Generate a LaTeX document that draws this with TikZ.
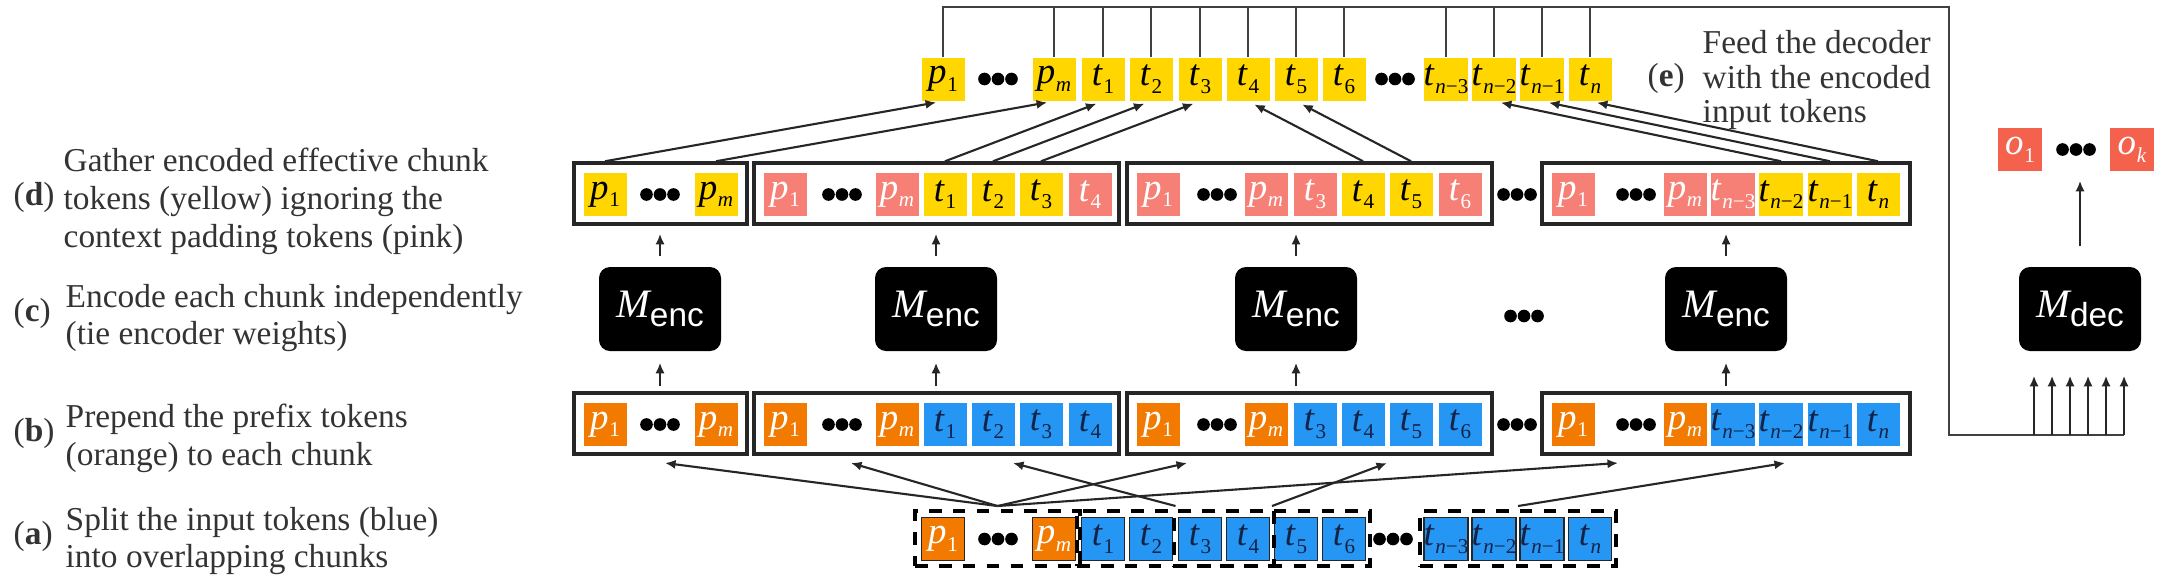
\documentclass[tikz,border=0pt]{standalone}
\usepackage{fontspec}
\setmainfont{Liberation Serif}
\setsansfont{Liberation Sans}
\usetikzlibrary{arrows.meta}
\definecolor{preorange}{RGB}{242,122,0}
\definecolor{inblue}{RGB}{38,150,245}
\definecolor{encyellow}{RGB}{255,214,0}
\definecolor{padpink}{RGB}{246,128,118}
\definecolor{outred}{RGB}{244,98,78}
\definecolor{navy}{RGB}{20,35,70}
\newcommand{\subfont}{\fontsize{6}{6}\selectfont}
\newcommand{\tk}[2]{\textit{#1}\kern0.2pt\raisebox{-0.45ex}{\subfont #2}}
\newcommand{\mlab}[1]{{\fontsize{11.5}{11.5}\selectfont\textit{M}}\kern-0.5pt\raisebox{-0.55ex}{\sffamily\fontsize{9.5}{9.5}\selectfont #1}}
\newcommand{\tdots}[2]{\fill (#1,#2) ++(-13.5,0) circle (1.8pt) ++(13.5,0) circle (1.8pt) ++(13.5,0) circle (1.8pt);}
\tikzset{
  tok/.style={minimum width=4.3mm, minimum height=4.3mm, inner sep=0pt, font=\fontsize{10.5}{10.5}\selectfont},
  ptok/.style={tok, fill=preorange, text=white},
  btok/.style={tok, fill=inblue, text=navy},
  ytok/.style={tok, fill=encyellow, text=black},
  ktok/.style={tok, fill=padpink, text=white},
  otok/.style={tok, minimum width=4.4mm, fill=outred, text=white},
  inp/.style={draw=black!85, line width=0.5pt},
  chunkbox/.style={draw=black!85, line width=1pt, minimum height=6.1mm, inner sep=0pt},
  grpbox/.style={draw=black, line width=1.3pt, dash pattern=on 3.6pt off 3.2pt, minimum height=5.5mm, inner sep=0pt, outer sep=0.5mm},
  modelbox/.style={fill=black, rounded corners=1.1mm, minimum width=12.2mm, minimum height=8.4mm, text=white},
  conn/.style={-{Latex[length=3pt,width=2.6pt]}, line width=0.6pt, draw=black!85},
  wire/.style={line width=0.6pt, draw=black!75},
  steplab/.style={anchor=west, inner sep=0pt, text=black!80, font=\fontsize{9.5}{10.8}\selectfont},
  desctext/.style={anchor=west, align=left, inner sep=0pt, text=black!80, font=\fontsize{9.5}{10.8}\selectfont}
}
\begin{document}
\begin{tikzpicture}[x=0.1mm, y=-0.1mm]
\useasboundingbox (0,0) rectangle (2167,587);
% step descriptions
\node[steplab] (ld) at (13,197) {(\textbf{d})};
\node[desctext] (td) at (63,201) {Gather encoded effective chunk\\tokens (yellow) ignoring the\\context padding tokens (pink)};
\node[steplab] (lc) at (13,313) {(\textbf{c})};
\node[desctext] (tc) at (65,318) {Encode each chunk independently\\(tie encoder weights)};
\node[steplab] (lb) at (13,433) {(\textbf{b})};
\node[desctext] (tb) at (65,438) {Prepend the prefix tokens\\(orange) to each chunk};
\node[steplab] (la) at (13,536) {(\textbf{a})};
\node[desctext] (ta) at (65,541) {Split the input tokens (blue)\\into overlapping chunks};
\node[steplab] (le) at (1647,78) {(\textbf{e})};
\node[desctext, font=\fontsize{9.5}{9.7}\selectfont] (te) at (1702,80) {Feed the decoder\\with the encoded\\input tokens};

% input tokens
\node[ptok, inp] (ip1) at (943,539) {\tk{p}{1}};
\node[ptok, inp] (ipm) at (1054,539) {\tk{p}{\textit{m}}};
\foreach \x/\i in {1103/1,1151/2,1200/3,1248/4,1296/5,1344/6}
  \node[btok, inp] (it\i) at (\x,539) {\tk{t}{\i}};
\node[btok, inp] (itn3) at (1446,539) {\tk{t}{\textit{n}−3}};
\node[btok, inp] (itn2) at (1494,539) {\tk{t}{\textit{n}−2}};
\node[btok, inp] (itn1) at (1542,539) {\tk{t}{\textit{n}−1}};
\node[btok, inp] (itn) at (1590,539) {\tk{t}{\textit{n}}};
\tdots{998}{539}
\tdots{1393}{539}
\node[grpbox, minimum width=16.5mm] (gpre) at (997.5,538.5) {};
\node[grpbox, minimum width=19.7mm] (gc1) at (1175.5,538.5) {};
\node[grpbox, minimum width=19.6mm] (gc2) at (1272,538.5) {};
\node[grpbox, minimum width=19.6mm] (gcn) at (1518,538.5) {};

% chunks with prefix
\node[chunkbox, minimum width=17.3mm] (fb1) at (660.5,423.5) {};
\node[chunkbox, minimum width=36.5mm] (fb2) at (936.5,423.5) {};
\node[chunkbox, minimum width=36.5mm] (fb3) at (1309.5,423.5) {};
\node[chunkbox, minimum width=36.8mm] (fb4) at (1726,423.5) {};
\node[ptok] (b1p1) at (605,424.5) {\tk{p}{1}};
\node[ptok] (b1pm) at (716,424.5) {\tk{p}{\textit{m}}};
\node[ptok] (b2p1) at (785,424.5) {\tk{p}{1}};
\node[ptok] (b2pm) at (897,424.5) {\tk{p}{\textit{m}}};
\foreach \x/\i in {945/1,993/2,1041/3,1090/4}
  \node[btok] (b2t\i) at (\x,424.5) {\tk{t}{\i}};
\node[ptok] (b3p1) at (1158,424.5) {\tk{p}{1}};
\node[ptok] (b3pm) at (1266,424.5) {\tk{p}{\textit{m}}};
\foreach \x/\i in {1315/3,1363/4,1411/5,1460/6}
  \node[btok] (b3t\i) at (\x,424.5) {\tk{t}{\i}};
\node[ptok] (b4p1) at (1573,424.5) {\tk{p}{1}};
\node[ptok] (b4pm) at (1685,424.5) {\tk{p}{\textit{m}}};
\node[btok] (b4tn3) at (1733,424.5) {\tk{t}{\textit{n}−3}};
\node[btok] (b4tn2) at (1781,424.5) {\tk{t}{\textit{n}−2}};
\node[btok] (b4tn1) at (1830,424.5) {\tk{t}{\textit{n}−1}};
\node[btok] (b4tn) at (1878,424.5) {\tk{t}{\textit{n}}};
\tdots{660}{424.5}
\tdots{842}{424.5}
\tdots{1217}{424.5}
\tdots{1636}{424.5}
\tdots{1517}{424.5}

% encoders
\node[modelbox] (enc1) at (660,309) {\mlab{enc}};
\node[modelbox] (enc2) at (936,309) {\mlab{enc}};
\node[modelbox] (enc3) at (1296,309) {\mlab{enc}};
\node[modelbox] (enc4) at (1726,309) {\mlab{enc}};
\tdots{1524}{316}

% encoded chunks
\node[chunkbox, minimum width=17.3mm] (fd1) at (660.5,193.5) {};
\node[chunkbox, minimum width=36.5mm] (fd2) at (936.5,193.5) {};
\node[chunkbox, minimum width=36.5mm] (fd3) at (1309.5,193.5) {};
\node[chunkbox, minimum width=36.8mm] (fd4) at (1726,193.5) {};
\node[ytok] (d1p1) at (605,194.5) {\tk{p}{1}};
\node[ytok] (d1pm) at (716,194.5) {\tk{p}{\textit{m}}};
\node[ktok] (d2p1) at (785,194.5) {\tk{p}{1}};
\node[ktok] (d2pm) at (897,194.5) {\tk{p}{\textit{m}}};
\foreach \x/\i in {945/1,993/2,1041/3}
  \node[ytok] (d2t\i) at (\x,194.5) {\tk{t}{\i}};
\node[ktok] (d2t4) at (1090,194.5) {\tk{t}{4}};
\node[ktok] (d3p1) at (1158,194.5) {\tk{p}{1}};
\node[ktok] (d3pm) at (1266,194.5) {\tk{p}{\textit{m}}};
\node[ktok] (d3t3) at (1315,194.5) {\tk{t}{3}};
\node[ytok] (d3t4) at (1363,194.5) {\tk{t}{4}};
\node[ytok] (d3t5) at (1411,194.5) {\tk{t}{5}};
\node[ktok] (d3t6) at (1460,194.5) {\tk{t}{6}};
\node[ktok] (d4p1) at (1573,194.5) {\tk{p}{1}};
\node[ktok] (d4pm) at (1685,194.5) {\tk{p}{\textit{m}}};
\node[ktok] (d4tn3) at (1733,194.5) {\tk{t}{\textit{n}−3}};
\node[ytok] (d4tn2) at (1781,194.5) {\tk{t}{\textit{n}−2}};
\node[ytok] (d4tn1) at (1830,194.5) {\tk{t}{\textit{n}−1}};
\node[ytok] (d4tn) at (1878,194.5) {\tk{t}{\textit{n}}};
\tdots{660}{194.5}
\tdots{842}{194.5}
\tdots{1217}{194.5}
\tdots{1636}{194.5}
\tdots{1517}{194.5}

% gathered encoded tokens
\node[ytok] (ep1) at (943,79) {\tk{p}{1}};
\node[ytok] (epm) at (1054,79) {\tk{p}{\textit{m}}};
\foreach \x/\i in {1103/1,1151/2,1200/3,1248/4,1296/5,1344/6}
  \node[ytok] (et\i) at (\x,79) {\tk{t}{\i}};
\node[ytok] (etn3) at (1446,79) {\tk{t}{\textit{n}−3}};
\node[ytok] (etn2) at (1494,79) {\tk{t}{\textit{n}−2}};
\node[ytok] (etn1) at (1542,79) {\tk{t}{\textit{n}−1}};
\node[ytok] (etn) at (1590,79) {\tk{t}{\textit{n}}};
\tdots{998}{79}
\tdots{1395}{79}

% decoder
\node[modelbox] (dec) at (2080,309) {\mlab{dec}};
\node[otok] (o1) at (2020,149.5) {\tk{o}{1}};
\node[otok] (ok) at (2132,149.5) {\tk{o}{\textit{k}}};
\tdots{2076}{149.5}

% input -> chunks
\coordinate (a1) at (665,463);
\coordinate (a2) at (851,463);
\coordinate (a3) at (1187,463);
\coordinate (a4) at (1618,463);
\coordinate (c2) at (1013,463);
\coordinate (c3) at (1387,463);
\coordinate (c4) at (1785,463);
\foreach \t in {a1,a2,a3,a4}
  \draw[conn] (gpre.north) -- (\t);
\draw[conn] (gc1.north) -- (c2);
\draw[conn] (gc2.north) -- (c3);
\draw[conn] (gcn.north) -- (c4);

% chunks -> encoders -> encoded chunks
\foreach \k in {1,2,3,4} {
  \draw[conn, shorten <=0.5mm, shorten >=1.1mm] (enc\k.south |- fb\k.north) -- (enc\k.south);
  \draw[conn, shorten <=1mm, shorten >=0.8mm] (enc\k.north) -- (enc\k.north |- fd\k.south);
}

% encoded chunks -> gathered tokens
\draw[conn, shorten >=0.7mm] (d1p1.north |- fd1.north) -- (ep1.south);
\draw[conn, shorten >=0.7mm] (d1pm.north |- fd1.north) -- (epm.south);
\foreach \i in {1,2,3}
  \draw[conn, shorten >=0.7mm] (d2t\i.north |- fd2.north) -- (et\i.south);
\foreach \i in {4,5}
  \draw[conn, shorten >=0.7mm] (d3t\i.north |- fd3.north) -- (et\i.south);
\foreach \i in {tn2,tn1,tn}
  \draw[conn, shorten >=0.7mm] (d4\i.north |- fd4.north) -- (e\i.south);

% gathered tokens -> decoder
\coordinate (busr) at (1949,7);
\coordinate (busd) at (1949,435);
\coordinate (buse) at (2124,435);
\draw[wire] (ep1.north) |- (busr) -- (busd) -- (buse);
\foreach \n in {pm,t1,t2,t3,t4,t5,t6,tn3,tn2,tn1,tn}
  \draw[wire] (e\n.north) -- (e\n.north |- busr);
\foreach \dx in {-4.6,-2.8,-1.0,0.8,2.6,4.4}
  \draw[conn, shorten >=2.4mm] ([xshift=\dx mm]dec.south |- busd) -- ([xshift=\dx mm]dec.south);
\draw[conn, shorten <=2mm, shorten >=0.9mm] (dec.north) -- (dec.north |- o1.south);
\end{tikzpicture}
\end{document}
